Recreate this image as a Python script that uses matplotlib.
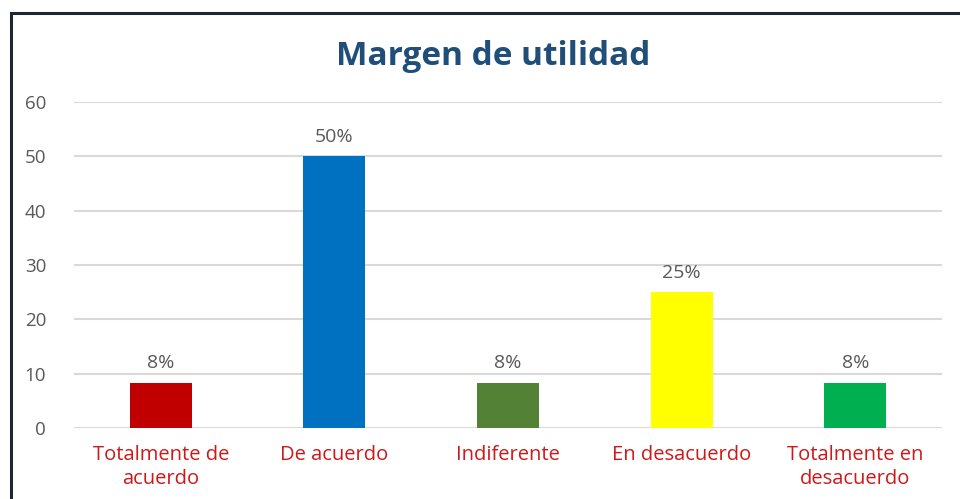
import matplotlib
matplotlib.use("Agg")
import matplotlib.pyplot as plt
from matplotlib.patches import Rectangle

plt.rcParams['font.family'] = ['Open Sans', 'DejaVu Sans']

categories = ['Totalmente de\nacuerdo', 'De acuerdo', 'Indiferente', 'En desacuerdo', 'Totalmente en\ndesacuerdo']
values = [8.33, 50, 8.33, 25, 8.33]
labels = ['8%', '50%', '8%', '25%', '8%']
colors = ['#C00000', '#0070C0', '#538135', '#FFFF00', '#00B050']

fig = plt.figure(figsize=(9.6, 4.99), dpi=100)
ax = fig.add_axes([74/960, 71/499, 868/960, 326/499])

x = range(len(categories))
bars = ax.bar(x, values, width=0.357, color=colors, zorder=3)
for b, lab in zip(bars, labels):
    ax.text(b.get_x() + b.get_width()/2, b.get_height() + 1.9, lab,
            ha='center', va='bottom', fontsize=14, color='#595959')

ax.set_xlim(-0.5, 4.5)
ax.set_ylim(0, 60)
ax.set_yticks(range(0, 61, 10))
ax.yaxis.grid(True, color='#D9D9D9', linewidth=1.5, zorder=0)
for s in ax.spines.values():
    s.set_visible(False)
ax.tick_params(axis='both', length=0)
ax.tick_params(axis='y', labelsize=13.5, labelcolor='#595959', pad=20)
ax.set_xticks(list(x))
ax.set_xticklabels(categories, fontsize=14.5, color='#D01818', linespacing=1.3)
ax.tick_params(axis='x', pad=12)

fig.text(0.514, 0.887, 'Margen de utilidad', ha='center', va='center',
         fontsize=24, fontweight='bold', color='#1F4E79')

fig.patches.append(Rectangle((11/960, -0.1), 1.2, (499-13)/499 + 0.1,
                             transform=fig.transFigure, fill=False,
                             edgecolor='#1E2633', linewidth=2.2))

fig.savefig('out.png', dpi=100)
